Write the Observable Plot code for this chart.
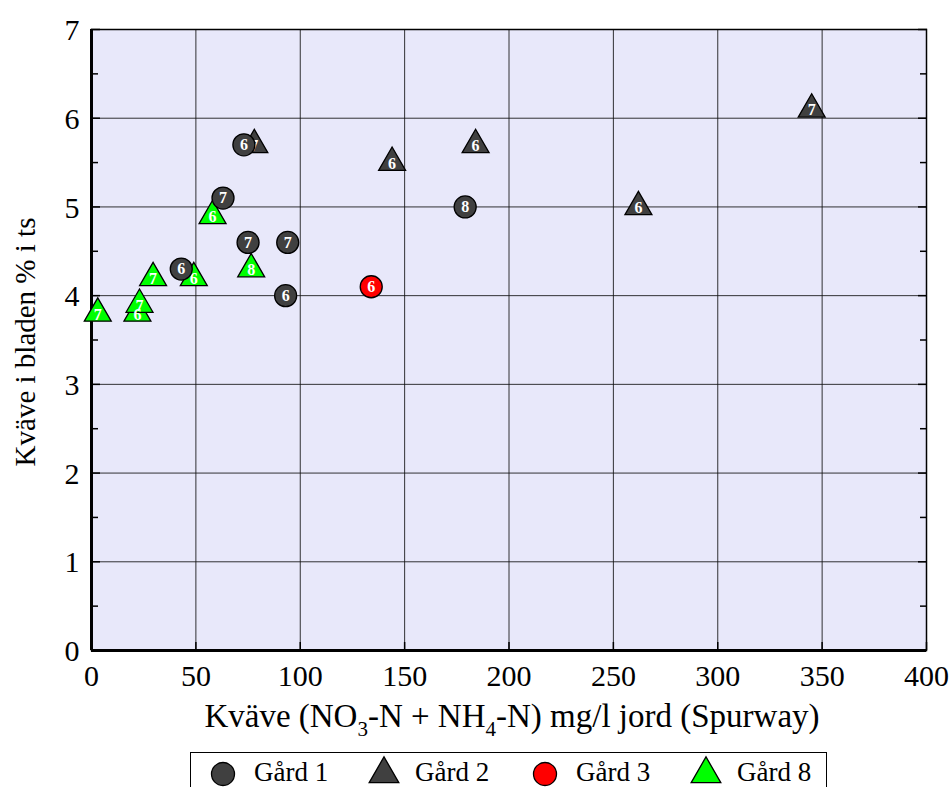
<!DOCTYPE html>
<html>
<head>
<meta charset="utf-8">
<script src="https://cdn.jsdelivr.net/npm/d3@7"></script>
<script src="https://cdn.jsdelivr.net/npm/@observablehq/plot@0.6"></script>
<style>
  body { margin: 0; background: #fff; font-family: "Liberation Serif", "Times New Roman", Times, serif; }
  #wrap { position: relative; width: 952px; height: 787px; overflow: hidden; }
  #legend { position: absolute; left: 190px; top: 752px; width: 637px; height: 50px;
            border: 1.5px solid #000; box-sizing: border-box; background: #fff; }
  .item { position: absolute; top: 8px; height: 26px; width: 161px; }
  .item svg { position: absolute; left: 20px; top: 0; overflow: visible; }
  .item span { position: absolute; left: 63px; top: -5px; font-size: 27px; line-height: 32px; color: #000; white-space: nowrap;
               font-family: "Liberation Serif", "Times New Roman", Times, serif; }
</style>
</head>
<body>
<div id="wrap">
  <div id="chart"></div>
  <div id="legend"></div>
</div>
<script>
const serif = '"Liberation Serif", "Times New Roman", Times, serif';

// Farms and how each is drawn
const farms = ["Gård 1", "Gård 2", "Gård 3", "Gård 8"];
const farmColors = ["#404040", "#404040", "#ff0000", "#00ff00"];
const farmSymbols = ["circle", "triangle", "circle", "triangle"];

// Soil nitrogen (mg/l, Spurway) and leaf nitrogen (% of dry matter), with point labels
const gard1X = [73, 63, 75, 94, 43, 93, 179];
const gard1Y = [5.7, 5.1, 4.6, 4.6, 4.3, 4.0, 5.0];
const gard1Labels = ["6", "7", "7", "7", "6", "6", "8"];

const gard2X = [78, 144, 184, 262, 345];
const gard2Y = [5.7, 5.5, 5.7, 5.0, 6.1];
const gard2Labels = ["7", "6", "6", "6", "7"];

const gard3X = [134];
const gard3Y = [4.1];
const gard3Labels = ["6"];

const gard8X = [3, 22, 23, 29.5, 49, 58, 76.5];
const gard8Y = [3.8, 3.8, 3.9, 4.2, 4.2, 4.9, 4.3];
const gard8Labels = ["7", "6", "7", "7", "6", "6", "8"];

// Axis ticks
const xTicks = [0, 50, 100, 150, 200, 250, 300, 350, 400];
const yTicks = [0, 1, 2, 3, 4, 5, 6, 7];
const yMinorTicks = [0.5, 1.5, 2.5, 3.5, 4.5, 5.5, 6.5];

function rowsFor(farm, xs, ys, labels) {
  return xs.map((x, i) => ({farm, x, y: ys[i], label: labels[i]}));
}
const triangles = [
  ...rowsFor("Gård 2", gard2X, gard2Y, gard2Labels),
  ...rowsFor("Gård 8", gard8X, gard8Y, gard8Labels)
];
const circles = [
  ...rowsFor("Gård 1", gard1X, gard1Y, gard1Labels),
  ...rowsFor("Gård 3", gard3X, gard3Y, gard3Labels)
];

const labelStyle = {fill: "white", fontWeight: "bold", fontSize: 16, fontFamily: serif};
const tickText = {fill: "black", fontSize: 30, fontFamily: serif, text: d => String(d)};

const chart = Plot.plot({
  width: 952,
  height: 745,
  marginLeft: 91,
  marginRight: 26,
  marginTop: 29,
  marginBottom: 95,
  style: {fontFamily: serif, fontSize: "28px", background: "transparent", color: "black", overflow: "visible"},
  x: {domain: [0, 400], label: null, axis: null},
  y: {domain: [0, 7], label: null, axis: null},
  color: {domain: farms, range: farmColors},
  marks: [
    Plot.frame({fill: "#e8e8fa", stroke: null}),
    Plot.gridX(xTicks, {stroke: "#111", strokeOpacity: 0.85, strokeWidth: 1}),
    Plot.gridY(yTicks, {stroke: "#111", strokeOpacity: 0.85, strokeWidth: 1}),
    // inward minor/major ticks
    Plot.axisY(yMinorTicks, {anchor: "left", tickSize: -7, tickFormat: () => "", label: null, strokeWidth: 1.5}),
    Plot.axisY(yMinorTicks, {anchor: "right", tickSize: -7, tickFormat: () => "", label: null, strokeWidth: 1.5}),
    Plot.axisY(yTicks, {anchor: "left", tickSize: -9, tickFormat: () => "", label: null, strokeWidth: 1.5}),
    Plot.axisY(yTicks, {anchor: "right", tickSize: -9, tickFormat: () => "", label: null, strokeWidth: 1.5}),
    Plot.axisX(xTicks, {anchor: "bottom", tickSize: -8, tickFormat: () => "", label: null, strokeWidth: 1.5}),
    // tick labels
    Plot.text(xTicks, {x: d => d, frameAnchor: "bottom", lineAnchor: "top", dy: 14, ...tickText}),
    Plot.text(yTicks, {y: d => d, frameAnchor: "left", textAnchor: "end", lineAnchor: "middle", dx: -12, dy: 1, ...tickText}),
    Plot.frame({stroke: "black", strokeWidth: 1.5}),
    Plot.ruleX([0], {stroke: "black", strokeWidth: 3}),
    Plot.ruleY([0], {stroke: "black", strokeWidth: 3}),
    // triangles underneath, circles on top
    Plot.dot(triangles, {x: "x", y: "y", symbol: "triangle", r: 10, fill: "farm", stroke: "black", strokeWidth: 1.3}),
    Plot.text(triangles, {x: "x", y: "y", text: "label", dy: 1, ...labelStyle}),
    Plot.dot(circles, {x: "x", y: "y", symbol: "circle", r: 11, fill: "farm", stroke: "black", strokeWidth: 1.3}),
    Plot.text(circles, {x: "x", y: "y", text: "label", dy: 0, ...labelStyle})
  ]
});

const svg = d3.select(chart);
svg.selectAll("text").style("font-family", serif);

// Axis titles (x title carries subscripts)
svg.append("text")
  .attr("transform", "translate(35,342) rotate(-90)")
  .attr("text-anchor", "middle")
  .style("font-size", "29px")
  .style("font-family", serif)
  .attr("fill", "black")
  .text("Kväve i bladen % i ts");

const xt = svg.append("text")
  .attr("x", 512)
  .attr("y", 727)
  .attr("text-anchor", "middle")
  .style("font-size", "33px")
  .style("font-family", serif)
  .attr("fill", "black");
xt.append("tspan").text("Kväve (NO");
xt.append("tspan").attr("dy", 9).style("font-size", "21px").text("3");
xt.append("tspan").attr("dy", -9).text("-N + NH");
xt.append("tspan").attr("dy", 9).style("font-size", "21px").text("4");
xt.append("tspan").attr("dy", -9).text("-N) mg/l jord (Spurway)");

document.getElementById("chart").appendChild(chart);

// Legend below the chart
const legend = d3.select("#legend");
farms.forEach((farm, i) => {
  const item = legend.append("div").attr("class", "item").style("left", (i * 161) + "px");
  const s = item.append("svg").attr("width", 24).attr("height", 26);
  const sym = farmSymbols[i] === "circle" ? d3.symbolCircle : d3.symbolTriangle;
  const r = farmSymbols[i] === "circle" ? 11.5 : 11;
  s.append("path")
    .attr("transform", "translate(12,13)")
    .attr("d", d3.symbol(sym, Math.PI * r * r)())
    .attr("fill", farmColors[i])
    .attr("stroke", "black")
    .attr("stroke-width", 1.3);
  item.append("span").text(farm);
});
</script>
</body>
</html>
